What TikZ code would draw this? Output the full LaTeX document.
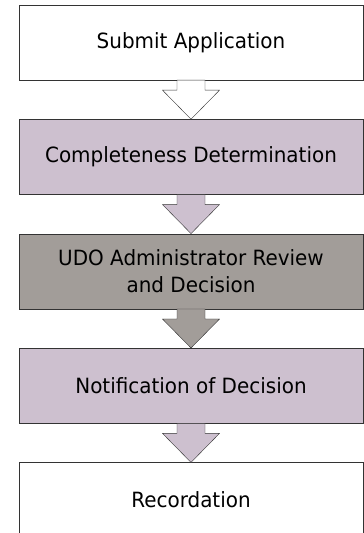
\documentclass[tikz,border=0pt]{standalone}
\usepackage{fontspec}
\setmainfont{DejaVu Sans}[FakeStretch=0.95]
\usetikzlibrary{positioning}
\definecolor{lilac}{RGB}{205,192,207}
\definecolor{stone}{RGB}{162,157,153}
\tikzset{stepbox/.style={draw=black!80, minimum width=344pt, minimum height=75pt,
  align=center, font=\fontsize{21}{27}\selectfont}}
\begin{document}
\begin{tikzpicture}[x=1pt,y=1pt, node distance=39pt]
\useasboundingbox (0,0) rectangle (364,533);
\node[stepbox, fill=white] (submit) at (191,490.5) {Submit Application};
\node[stepbox, fill=lilac, below=of submit] (complete) {Completeness Determination};
\node[stepbox, fill=stone, below=of complete] (review) {UDO Administrator Review\\and Decision};
\node[stepbox, fill=lilac, below=of review] (notify) {Notification of Decision};
\node[stepbox, fill=white, below=of notify] (record) {Recordation};
\foreach \a/\b/\c in {submit/complete/white, complete/review/lilac,
  review/notify/stone, notify/record/lilac}{
\draw[black!80, fill=\c] ([xshift=-14]\a.south) -- ++(0,-10) -- ++(-14.5,0)
  -- (\b.north) -- ++(28.5,29) -- ++(-14.5,0) -- ++(0,10) -- cycle;
}
\end{tikzpicture}
\end{document}
